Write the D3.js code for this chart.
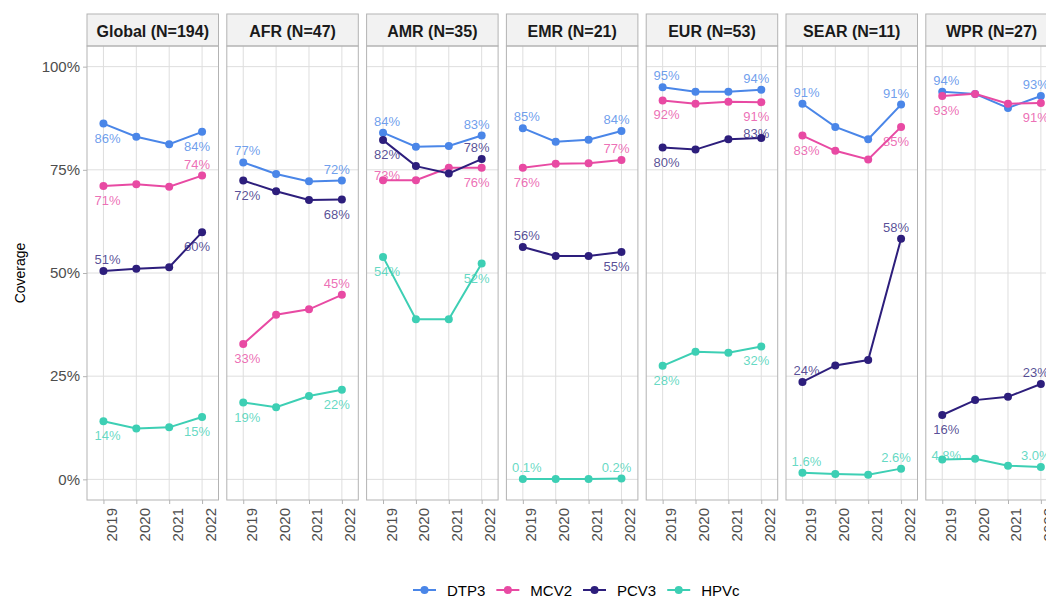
<!DOCTYPE html>
<html>
<head>
<meta charset="utf-8">
<script src="https://cdn.jsdelivr.net/npm/d3@7"></script>
<style>
  html, body { margin: 0; padding: 0; background: #fff; }
  svg { display: block; font-family: "Liberation Sans", Arial, sans-serif; }
</style>
</head>
<body>
<svg id="chart" width="1046" height="596"></svg>
<script>
// ---------------- DATA ----------------
const years = [2019, 2020, 2021, 2022];
const regions = ["Global (N=194)", "AFR (N=47)", "AMR (N=35)", "EMR (N=21)", "EUR (N=53)", "SEAR (N=11)", "WPR (N=27)"];
const vaccines = ["DTP3", "MCV2", "PCV3", "HPVc"];
const yTicks = [0, 25, 50, 75, 100];

// coverage (%) per region (rows, same order as regions) per year
const dtp3 = [
  [86.2, 83.0, 81.2, 84.2],
  [76.8, 74.0, 72.2, 72.4],
  [84.0, 80.6, 80.8, 83.3],
  [85.1, 81.8, 82.3, 84.4],
  [95.0, 93.9, 93.9, 94.4],
  [91.0, 85.4, 82.4, 90.8],
  [93.9, 93.4, 90.0, 92.9]
];
const mcv2 = [
  [71.1, 71.5, 70.9, 73.6],
  [32.8, 39.9, 41.2, 44.7],
  [72.5, 72.5, 75.5, 75.5],
  [75.5, 76.5, 76.6, 77.4],
  [91.8, 91.0, 91.5, 91.4],
  [83.3, 79.6, 77.5, 85.4],
  [92.9, 93.4, 91.0, 91.2]
];
const pcv3 = [
  [50.5, 51.0, 51.4, 59.9],
  [72.4, 69.8, 67.7, 67.8],
  [82.2, 75.9, 74.1, 77.6],
  [56.3, 54.1, 54.1, 55.1],
  [80.4, 79.9, 82.4, 82.7],
  [23.6, 27.6, 28.9, 58.3],
  [15.6, 19.2, 20.0, 23.1]
];
const hpvc = [
  [14.1, 12.3, 12.6, 15.1],
  [18.6, 17.5, 20.2, 21.7],
  [53.9, 38.8, 38.8, 52.3],
  [0.1, 0.1, 0.1, 0.2],
  [27.5, 30.9, 30.7, 32.2],
  [1.6, 1.3, 1.1, 2.6],
  [4.8, 5.0, 3.3, 3.0]
];
// label side for [first year, last year]: a = above, b = below, m = near point
const dtp3Side = [["b","b"],["a","a"],["a","a"],["a","a"],["a","a"],["a","a"],["a","a"]];
const mcv2Side = [["b","a"],["b","a"],["m","b"],["b","a"],["b","b"],["b","b"],["b","b"]];
const pcv3Side = [["a","b"],["b","b"],["b","a"],["a","b"],["b","m"],["a","a"],["b","a"]];
const hpvcSide = [["b","b"],["b","b"],["b","b"],["a","a"],["b","b"],["a","a"],["m","a"]];

const seriesValues = [dtp3, mcv2, pcv3, hpvc];
const seriesSides = [dtp3Side, mcv2Side, pcv3Side, hpvcSide];
const colors = ["#4a86e8", "#e84aa3", "#2d1e7c", "#3dcfb4"];

// ---------------- LAYOUT ----------------
const svg = d3.select("#chart");
const panelW = 131.5, panelStep = 139.8, firstLeft = 87;
const stripTop = 14, stripH = 32, panelTop = 46, panelBottom = 500;

const y = d3.scaleLinear().domain([-5, 105]).range([panelBottom, panelTop]);
const color = d3.scaleOrdinal().domain(vaccines).range(colors);
const fmt = v => (v < 10 ? v.toFixed(1) : String(Math.round(v))) + "%";
const dyFor = { a: -7, b: 19, m: 0 };

regions.forEach((reg, ri) => {
  const left = firstLeft + ri * panelStep;
  const x = d3.scaleLinear().domain([2018.5, 2022.5]).range([left, left + panelW]);
  const g = svg.append("g");

  // grid
  g.selectAll("line.hg").data(yTicks).join("line")
    .attr("x1", left).attr("x2", left + panelW)
    .attr("y1", d => y(d)).attr("y2", d => y(d))
    .attr("stroke", "#dedede").attr("stroke-width", 1);
  g.selectAll("line.vg").data(years).join("line")
    .attr("x1", d => x(d)).attr("x2", d => x(d))
    .attr("y1", panelTop).attr("y2", panelBottom)
    .attr("stroke", "#dedede").attr("stroke-width", 1);

  // strip
  g.append("rect").attr("x", left).attr("y", stripTop).attr("width", panelW).attr("height", stripH)
    .attr("fill", "#f2f2f2").attr("stroke", "#b3b3b3").attr("stroke-width", 1);
  g.append("text").attr("x", left + panelW / 2).attr("y", stripTop + stripH / 2 + 1)
    .attr("text-anchor", "middle").attr("dominant-baseline", "central")
    .attr("font-size", 16).attr("font-weight", "bold").attr("fill", "#1a1a1a").text(reg);

  // x axis
  const xa = g.append("g").attr("transform", `translate(0,${panelBottom})`)
    .call(d3.axisBottom(x).tickValues(years).tickFormat(d3.format("d")).tickSize(4).tickSizeOuter(0));
  xa.select(".domain").remove();
  xa.selectAll(".tick line").attr("stroke", "#b3b3b3");
  xa.selectAll(".tick text")
    .attr("font-size", 15).attr("fill", "#4d4d4d").attr("font-family", "Liberation Sans, Arial, sans-serif")
    .attr("text-anchor", "end").attr("dy", null).attr("y", null)
    .attr("transform", "translate(13,8) rotate(-90)");

  // labels (under lines)
  seriesValues.forEach((vals, si) => {
    const v = vals[ri];
    const sides = seriesSides[si][ri];
    const pts = [{ yr: years[0], val: v[0], side: sides[0], dx: 4 }, { yr: years[3], val: v[3], side: sides[1], dx: -5 }];
    g.selectAll(null).data(pts).join("text")
      .attr("x", d => x(d.yr) + d.dx)
      .attr("y", d => y(d.val) + dyFor[d.side])
      .attr("text-anchor", "middle").attr("font-size", 13)
      .attr("fill", colors[si]).attr("fill-opacity", 0.8)
      .text(d => fmt(d.val));
  });

  // lines and points
  seriesValues.forEach((vals, si) => {
    const data = years.map((yr, i) => ({ yr, val: vals[ri][i] }));
    g.append("path").datum(data)
      .attr("d", d3.line().x(d => x(d.yr)).y(d => y(d.val)))
      .attr("fill", "none").attr("stroke", color(vaccines[si])).attr("stroke-width", 2);
    g.selectAll(null).data(data).join("circle")
      .attr("cx", d => x(d.yr)).attr("cy", d => y(d.val)).attr("r", 4)
      .attr("fill", color(vaccines[si]));
  });

  // panel border
  g.append("rect").attr("x", left).attr("y", panelTop).attr("width", panelW).attr("height", panelBottom - panelTop)
    .attr("fill", "none").attr("stroke", "#b3b3b3").attr("stroke-width", 1);

  // y axis on first panel
  if (ri === 0) {
    const ya = svg.append("g").attr("transform", `translate(${left},0)`)
      .call(d3.axisLeft(y).tickValues(yTicks).tickFormat(d => d + "%").tickSize(4).tickSizeOuter(0).tickPadding(3));
    ya.select(".domain").remove();
    ya.selectAll(".tick line").attr("stroke", "#b3b3b3");
    ya.selectAll(".tick text").attr("font-size", 15).attr("fill", "#4d4d4d")
      .attr("font-family", "Liberation Sans, Arial, sans-serif");
  }
});

// y title
svg.append("text").attr("transform", `translate(25,${(panelTop + panelBottom) / 2}) rotate(-90)`)
  .attr("text-anchor", "middle").attr("font-size", 14).attr("fill", "#000").text("Coverage");

// legend
const leg = svg.append("g");
let lx = 413;
const ly = 590;
vaccines.forEach((v, i) => {
  const it = leg.append("g");
  it.append("line").attr("x1", lx).attr("x2", lx + 23).attr("y1", ly).attr("y2", ly)
    .attr("stroke", color(v)).attr("stroke-width", 2);
  it.append("circle").attr("cx", lx + 11.5).attr("cy", ly).attr("r", 4).attr("fill", color(v));
  const t = it.append("text").attr("x", lx + 34).attr("y", ly).attr("dominant-baseline", "central")
    .attr("font-size", 15).attr("fill", "#000").text(v);
  lx = lx + 34 + t.node().getComputedTextLength() + 11;
});
</script>
</body>
</html>
